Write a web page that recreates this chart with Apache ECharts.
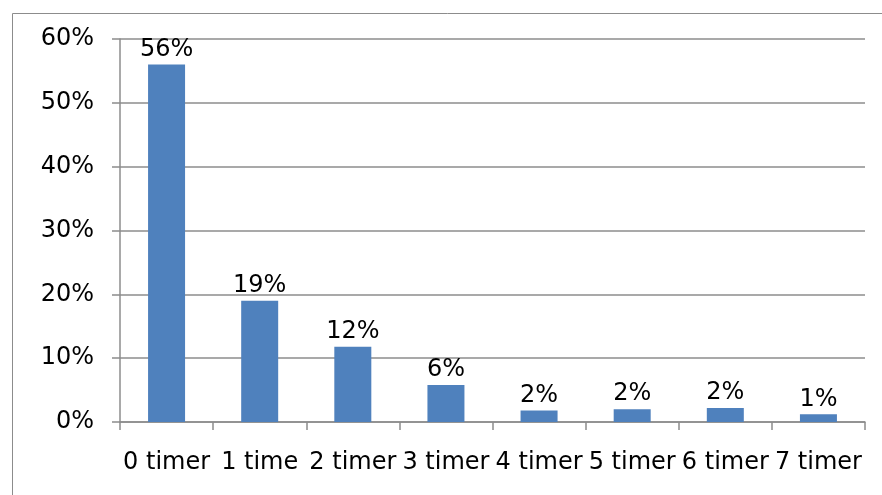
<!DOCTYPE html>
<html>
<head>
<meta charset="utf-8">
<script src="https://cdn.jsdelivr.net/npm/echarts@6/dist/echarts.min.js"></script>
<style>
  html, body { margin: 0; padding: 0; background: #fff; }
  #chart { width: 882px; height: 495px; }
</style>
</head>
<body>
<div id="chart"></div>
<script>
// Share of respondents by number of times (percent)
const categories = ['0 timer', '1 time', '2 timer', '3 timer', '4 timer', '5 timer', '6 timer', '7 timer'];
const shares = [56.0, 19.0, 11.8, 5.8, 1.8, 2.0, 2.2, 1.2];
const yTicks = { min: 0, max: 60, interval: 10 };

const FONT = '"DejaVu Sans", Verdana, sans-serif';
const FONT_SIZE = 24;
const chart = echarts.init(document.getElementById('chart'), null, { renderer: 'canvas' });

chart.setOption({
  animation: false,
  backgroundColor: '#ffffff',
  textStyle: { fontFamily: FONT, color: '#000' },
  graphic: [{
    type: 'rect',
    left: 10, top: 11,
    shape: { width: 880, height: 490 },
    style: { fill: 'none', stroke: '#8c8c8c', lineWidth: 1 },
    silent: true
  }],
  grid: { left: 120, right: 17, top: 39, bottom: 73, containLabel: false },
  xAxis: {
    type: 'category',
    data: categories,
    boundaryGap: true,
    axisLine: { lineStyle: { color: '#8c8c8c', width: 1.5 } },
    axisTick: { show: true, length: 8, alignWithLabel: false, lineStyle: { color: '#8c8c8c', width: 1.5 } },
    axisLabel: { color: '#000', fontFamily: FONT, fontSize: FONT_SIZE, margin: 29, interval: 0, hideOverlap: false },
    splitLine: { show: false }
  },
  yAxis: {
    type: 'value',
    min: yTicks.min, max: yTicks.max, interval: yTicks.interval,
    axisLine: { show: true, lineStyle: { color: '#8c8c8c', width: 1.5 } },
    axisTick: { show: true, length: 8, lineStyle: { color: '#8c8c8c', width: 1.5 } },
    axisLabel: { color: '#000', fontFamily: FONT, fontSize: FONT_SIZE, margin: 26, formatter: '{value}%' },
    splitLine: { show: true, lineStyle: { color: '#8c8c8c', width: 1.5 } }
  },
  series: [{
    type: 'bar',
    data: shares,
    barWidth: 37,
    itemStyle: { color: '#4f81bd' },
    label: {
      show: true,
      position: 'top',
      distance: 3,
      color: '#000',
      fontFamily: FONT,
      fontSize: FONT_SIZE,
      formatter: p => Math.round(p.value) + '%'
    }
  }]
});
</script>
</body>
</html>
